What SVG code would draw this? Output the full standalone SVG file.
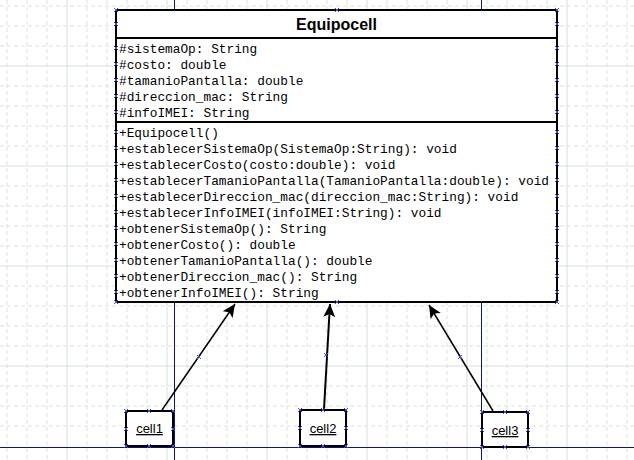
<svg xmlns="http://www.w3.org/2000/svg" xmlns:xlink="http://www.w3.org/1999/xlink" width="634" height="460" viewBox="0 0 634 460">
<style>
.gd{stroke:#d6e3df;stroke-width:1;stroke-dasharray:4 3;fill:none}
.gs{stroke:#d3e0dc;stroke-width:1;fill:none}
.nv{stroke:#10108a;stroke-width:1;fill:none}
.box{fill:#fff;stroke:#000;stroke-width:2}
.sep{stroke:#000;stroke-width:2}
.title{font-family:"Liberation Sans",Arial,sans-serif;font-weight:bold;font-size:16px;fill:#000}
.mono{font-family:"Liberation Mono","Courier New",monospace;font-size:12.8px;fill:#000}
.lbl{font-family:"Liberation Sans",Arial,sans-serif;font-size:13px;fill:#000;text-decoration:underline}
.conn{stroke:#000;fill:none}
.xm{stroke:#4a4ae0;stroke-width:1;fill:none}
</style>
<defs>
<marker id="ah" markerUnits="userSpaceOnUse" markerWidth="14" markerHeight="12" refX="13" refY="6" orient="auto">
<path d="M0,0 L13,6 L0,12 L3,6 z" fill="#000"/>
</marker>
<path id="x" class="xm" d="M-2,-2 L2,2 M-2,2 L2,-2"/>
</defs>
<rect width="634" height="460" fill="#fff"/>
<g id="grid">
<path class="gd" d="M7,0V460M27,0V460M47,0V460M87,0V460M107,0V460M127,0V460M147,0V460M187,0V460M207,0V460M227,0V460M247,0V460M287,0V460M307,0V460M327,0V460M347,0V460M387,0V460M407,0V460M427,0V460M447,0V460M487,0V460M507,0V460M527,0V460M547,0V460M587,0V460M607,0V460M627,0V460"/>
<path class="gd" d="M0,6H634M0,26H634M0,46H634M0,86H634M0,106H634M0,126H634M0,146H634M0,186H634M0,206H634M0,226H634M0,246H634M0,286H634M0,306H634M0,326H634M0,346H634M0,386H634M0,406H634M0,426H634"/>
<path class="gs" d="M67,0V460M167,0V460M267,0V460M367,0V460M467,0V460M567,0V460M0,66H634M0,166H634M0,266H634M0,366H634"/>
<path class="nv" d="M174.5,0V460M481.5,0V460M0,447.5H634"/>
</g>
<g id="Equipocell">
<rect class="box" x="116" y="10" width="441" height="292"/>
<line class="sep" x1="116" y1="38" x2="557" y2="38"/>
<line class="sep" x1="116" y1="122" x2="557" y2="122"/>
<text class="title" x="336.5" y="30" text-anchor="middle">Equipocell</text>
<text class="mono" x="119" y="53">#sistemaOp: String</text>
<text class="mono" x="119" y="69">#costo: double</text>
<text class="mono" x="119" y="85">#tamanioPantalla: double</text>
<text class="mono" x="119" y="101">#direccion_mac: String</text>
<text class="mono" x="119" y="117">#infoIMEI: String</text>
<text class="mono" x="119" y="137">+Equipocell()</text>
<text class="mono" x="119" y="153">+establecerSistemaOp(SistemaOp:String): void</text>
<text class="mono" x="119" y="169">+establecerCosto(costo:double): void</text>
<text class="mono" x="119" y="185">+establecerTamanioPantalla(TamanioPantalla:double): void</text>
<text class="mono" x="119" y="201">+establecerDireccion_mac(direccion_mac:String): void</text>
<text class="mono" x="119" y="217">+establecerInfoIMEI(infoIMEI:String): void</text>
<text class="mono" x="119" y="233">+obtenerSistemaOp(): String</text>
<text class="mono" x="119" y="249">+obtenerCosto(): double</text>
<text class="mono" x="119" y="265">+obtenerTamanioPantalla(): double</text>
<text class="mono" x="119" y="281">+obtenerDireccion_mac(): String</text>
<text class="mono" x="119" y="297">+obtenerInfoIMEI(): String</text>
</g>
<g id="cell1">
<rect class="box" x="126" y="411" width="47" height="35"/>
<text class="lbl" x="149.5" y="433" text-anchor="middle">cell1</text>
</g>
<g id="cell2">
<rect class="box" x="300" y="410" width="46" height="36"/>
<text class="lbl" x="323" y="433" text-anchor="middle">cell2</text>
</g>
<g id="cell3">
<rect class="box" x="482" y="412" width="46" height="35"/>
<text class="lbl" x="505" y="435" text-anchor="middle">cell3</text>
</g>
<g id="connectors">
<line class="conn" stroke-width="1.5" x1="162" y1="410" x2="235" y2="304" marker-end="url(#ah)"/>
<line class="conn" stroke-width="2" x1="324" y1="409" x2="330" y2="304" marker-end="url(#ah)"/>
<line class="conn" stroke-width="1.5" x1="493" y1="411" x2="429" y2="305" marker-end="url(#ah)"/>
</g>
<g id="handles">
<use xlink:href="#x" x="116" y="10"/><use xlink:href="#x" x="116" y="24"/><use xlink:href="#x" x="116" y="48"/><use xlink:href="#x" x="116" y="64"/><use xlink:href="#x" x="116" y="80"/><use xlink:href="#x" x="116" y="96"/><use xlink:href="#x" x="116" y="112"/><use xlink:href="#x" x="116" y="132"/><use xlink:href="#x" x="116" y="148"/><use xlink:href="#x" x="116" y="164"/><use xlink:href="#x" x="116" y="180"/><use xlink:href="#x" x="116" y="196"/><use xlink:href="#x" x="116" y="212"/><use xlink:href="#x" x="116" y="228"/><use xlink:href="#x" x="116" y="244"/><use xlink:href="#x" x="116" y="260"/><use xlink:href="#x" x="116" y="276"/><use xlink:href="#x" x="116" y="292"/><use xlink:href="#x" x="116" y="302"/>
<use xlink:href="#x" x="557" y="10"/><use xlink:href="#x" x="557" y="24"/><use xlink:href="#x" x="557" y="48"/><use xlink:href="#x" x="557" y="64"/><use xlink:href="#x" x="557" y="80"/><use xlink:href="#x" x="557" y="96"/><use xlink:href="#x" x="557" y="112"/><use xlink:href="#x" x="557" y="132"/><use xlink:href="#x" x="557" y="148"/><use xlink:href="#x" x="557" y="164"/><use xlink:href="#x" x="557" y="180"/><use xlink:href="#x" x="557" y="196"/><use xlink:href="#x" x="557" y="212"/><use xlink:href="#x" x="557" y="228"/><use xlink:href="#x" x="557" y="244"/><use xlink:href="#x" x="557" y="260"/><use xlink:href="#x" x="557" y="276"/><use xlink:href="#x" x="557" y="292"/><use xlink:href="#x" x="557" y="302"/>
<use xlink:href="#x" x="337" y="10"/><use xlink:href="#x" x="337" y="302"/>
<use xlink:href="#x" x="126" y="411"/><use xlink:href="#x" x="149" y="411"/><use xlink:href="#x" x="173" y="411"/><use xlink:href="#x" x="126" y="429"/><use xlink:href="#x" x="173" y="429"/><use xlink:href="#x" x="126" y="446"/><use xlink:href="#x" x="149" y="446"/><use xlink:href="#x" x="173" y="446"/>
<use xlink:href="#x" x="300" y="410"/><use xlink:href="#x" x="323" y="410"/><use xlink:href="#x" x="346" y="410"/><use xlink:href="#x" x="300" y="428"/><use xlink:href="#x" x="346" y="428"/><use xlink:href="#x" x="300" y="446"/><use xlink:href="#x" x="323" y="446"/><use xlink:href="#x" x="346" y="446"/>
<use xlink:href="#x" x="482" y="412"/><use xlink:href="#x" x="505" y="412"/><use xlink:href="#x" x="528" y="412"/><use xlink:href="#x" x="482" y="430"/><use xlink:href="#x" x="528" y="430"/><use xlink:href="#x" x="482" y="447"/><use xlink:href="#x" x="505" y="447"/><use xlink:href="#x" x="528" y="447"/>
<use xlink:href="#x" x="199" y="357"/><use xlink:href="#x" x="326" y="355"/><use xlink:href="#x" x="460" y="357"/>
</g>
</svg>
